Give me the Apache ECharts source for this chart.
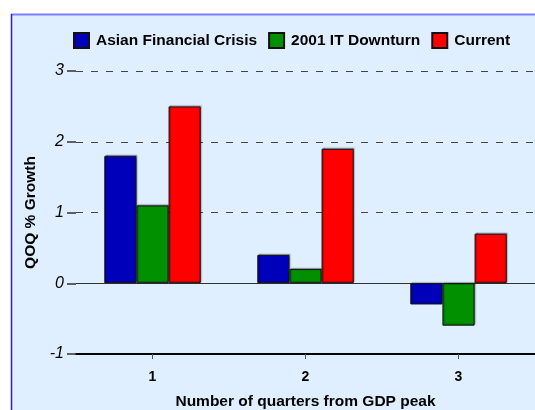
<!DOCTYPE html>
<html>
<head>
<meta charset="utf-8">
<script src="https://cdn.jsdelivr.net/npm/echarts@6/dist/echarts.min.js"></script>
<style>
  html, body { margin: 0; padding: 0; background: #ffffff; }
  #chart { width: 535px; height: 410px; }
</style>
</head>
<body>
<div id="chart"></div>
<script>
// Quarters after the GDP peak
const quarters = ['1', '2', '3'];

// Quarter-on-quarter growth (%) in each episode
const asianCrisis = [1.8, 0.4, -0.3];
const itDownturn = [1.1, 0.2, -0.6];
const current = [2.5, 1.9, 0.7];

const seriesNames = ['Asian Financial Crisis', '2001 IT Downturn', 'Current'];
const seriesColors = ['#0000bb', '#009000', '#ff0000'];

const chart = echarts.init(document.getElementById('chart'), null, { renderer: 'canvas' });

const font = 'Arial, "Liberation Sans", sans-serif';

function barSeries(name, data, color, extra) {
  return Object.assign({
    name: name,
    type: 'bar',
    data: data,
    barGap: '0%',
    barCategoryGap: '37%',
    itemStyle: {
      color: color,
      borderColor: '#111111',
      borderWidth: 1,
      shadowColor: 'rgba(0,0,0,0.35)',
      shadowBlur: 1,
      shadowOffsetX: 1,
      shadowOffsetY: -1
    },
    emphasis: { disabled: true }
  }, extra || {});
}

chart.setOption({
  animation: false,
  backgroundColor: '#ffffff',
  graphic: [
    // panel background and its border
    {
      type: 'rect', z: -10, silent: true,
      shape: { x: 11, y: 14, width: 600, height: 500 },
      style: { fill: '#dfefff' }
    },
    {
      type: 'line', z: -9, silent: true,
      shape: { x1: 11, y1: 14.5, x2: 600, y2: 14.5 },
      style: { stroke: '#8080ff', lineWidth: 2 }
    },
    {
      type: 'line', z: -9, silent: true,
      shape: { x1: 11.5, y1: 14, x2: 11.5, y2: 500 },
      style: { stroke: '#2020ee', lineWidth: 1.5 }
    }
  ],
  legend: {
    left: 73,
    top: 32,
    padding: 0,
    itemWidth: 15,
    itemHeight: 15,
    itemGap: 11,
    icon: 'rect',
    textStyle: { fontFamily: font, fontSize: 15.5, fontWeight: 'bold', color: '#000000', padding: [0, 0, 0, 2] },
    data: seriesNames
  },
  grid: { left: 76, right: 0, top: 71, bottom: 56, containLabel: false, outerBoundsMode: 'none' },
  xAxis: {
    type: 'category',
    data: quarters,
    boundaryGap: true,
    name: 'Number of quarters from GDP peak',
    nameLocation: 'middle',
    nameGap: 40,
    nameTextStyle: { fontFamily: font, fontSize: 15.5, fontWeight: 'bold', color: '#000000' },
    axisLine: { onZero: false, lineStyle: { color: '#000000', width: 2 } },
    axisTick: { show: true, alignWithLabel: true, length: 5, lineStyle: { color: '#555555', width: 1 } },
    axisLabel: { margin: 16, fontFamily: font, fontSize: 14, fontWeight: 'bold', color: '#000000' },
    splitLine: { show: false }
  },
  yAxis: {
    type: 'value',
    min: -1,
    max: 3,
    interval: 1,
    name: 'QOQ % Growth',
    nameLocation: 'middle',
    nameGap: 32,
    nameTextStyle: { fontFamily: font, fontSize: 15.5, fontWeight: 'bold', color: '#000000' },
    axisLine: { show: false },
    axisTick: { show: true, length: 9, lineStyle: { color: '#333333', width: 1.5 } },
    axisLabel: { margin: 12, fontFamily: font, fontSize: 16, fontStyle: 'italic', color: '#000000' },
    splitLine: { show: true, lineStyle: { color: '#444444', width: 1.2, type: [7, 8] } }
  },
  series: [
    barSeries(seriesNames[0], asianCrisis, seriesColors[0], {
      markLine: {
        silent: true,
        symbol: 'none',
        label: { show: false },
        lineStyle: { color: '#333333', width: 1.2, type: 'solid' },
        data: [{ yAxis: 0 }],
        z: 1
      }
    }),
    barSeries(seriesNames[1], itDownturn, seriesColors[1]),
    barSeries(seriesNames[2], current, seriesColors[2])
  ]
});
</script>
</body>
</html>
